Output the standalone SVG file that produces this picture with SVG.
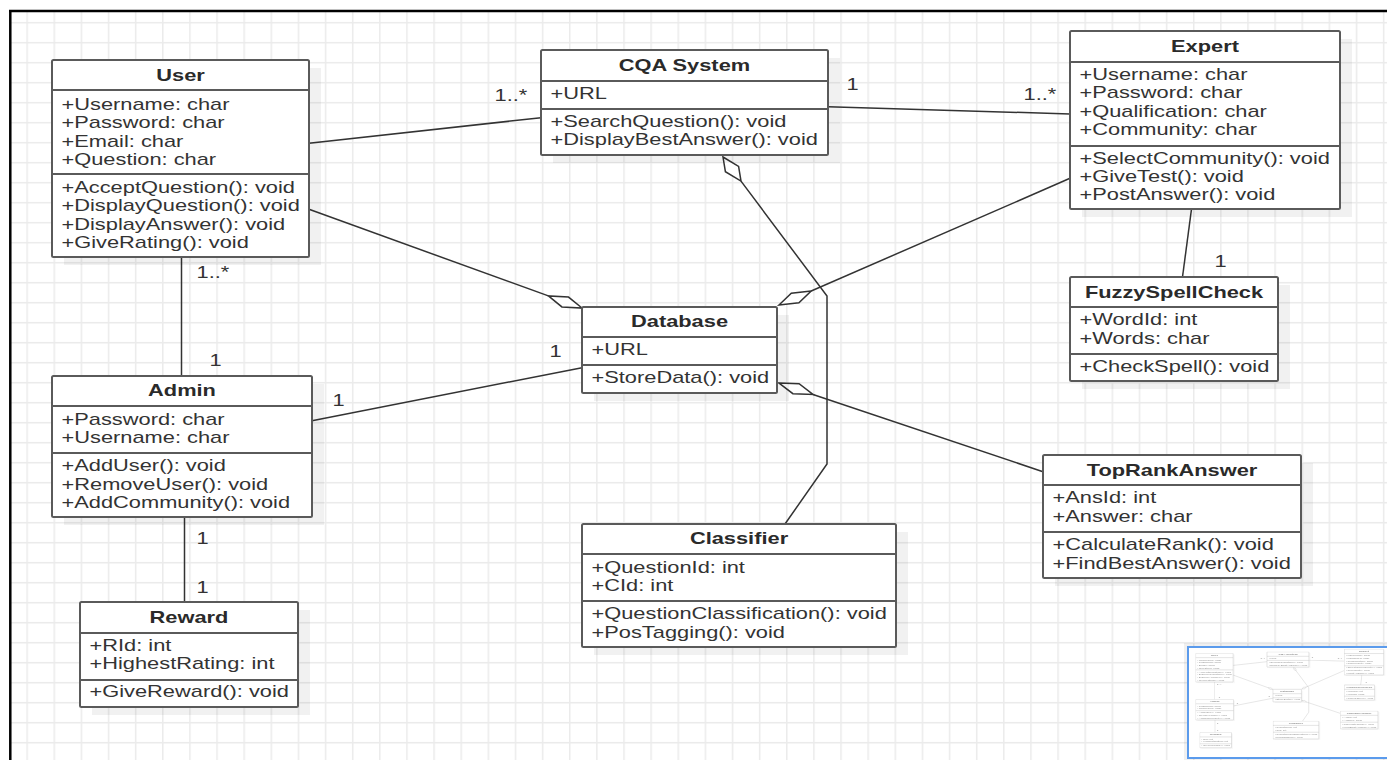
<svg xmlns="http://www.w3.org/2000/svg" width="1387" height="760" viewBox="0 0 1387 760">
<style>
.box{fill:#fff;stroke:#5a5a5a;stroke-width:2}
.sep{stroke:#5a5a5a;stroke-width:2}
.sh{fill:#000;opacity:.055}
.t{font-family:"Liberation Sans",Arial,sans-serif;font-size:16px;fill:#333}
.h{font-weight:bold;text-anchor:middle;fill:#2a2a2a}
.conn{stroke:#333;stroke-width:1.5;fill:none}
.dia{fill:#fff;stroke:#333;stroke-width:1.5;stroke-linejoin:miter}
.lbl{font-family:"Liberation Sans",Arial,sans-serif;font-size:16px;fill:#333}
</style>
<defs>
<pattern id="grid" patternUnits="userSpaceOnUse" x="-0.75" y="1.95" width="27.13" height="20">
<rect width="27.13" height="20" fill="#fff"/>
<path d="M0.75 0V20M0 0.75H27.13" stroke="#ebebeb" stroke-width="1.5"/>
</pattern>
</defs>
<rect x="0" y="0" width="1387" height="760" fill="#fff"/>
<rect x="11" y="12" width="1376" height="748" fill="url(#grid)"/>
<line x1="9" y1="11" x2="1387" y2="11" stroke="#000" stroke-width="2.5"/>
<line x1="10.3" y1="10" x2="10.3" y2="760" stroke="#000" stroke-width="2.5"/>

<g id="diagram">
<g id="connectors">
<path class="conn" d="M309 143.3L541 117.7"/>
<path class="conn" d="M828 106.7L1070 114"/>
<path class="conn" d="M309 209.3L548.4 295.9"/>
<polygon class="dia" points="582,308 568.5,297.1 548.4,295.9 561.9,306.9"/>
<path class="conn" d="M1070 178.3L811.2 291"/>
<polygon class="dia" points="779,305 791.3,293.3 811.2,291 798.9,302.7"/>
<path class="conn" d="M813 394.5L1043 471.7"/>
<polygon class="dia" points="779,383 799.1,383.7 813,394.5 792.9,393.7"/>
<path class="conn" d="M741 181.1L827 296L827 464L785 524"/>
<polygon class="dia" points="723,157 738.6,166.4 741,181.1 725.4,171.7"/>
<path class="conn" d="M312 420.7L582 367.7"/>
<path class="conn" d="M181.5 257V376"/>
<path class="conn" d="M184.5 517V602"/>
<path class="conn" d="M1191.5 209L1182.5 277"/>
<text class="lbl" transform="matrix(1.365 0 0 1 494.6 0)" y="101">1..*</text>
<text class="lbl" transform="matrix(1.365 0 0 1 846.6 0)" y="90">1</text>
<text class="lbl" transform="matrix(1.365 0 0 1 1023.6 0)" y="100">1..*</text>
<text class="lbl" transform="matrix(1.365 0 0 1 1214.6 0)" y="267">1</text>
<text class="lbl" transform="matrix(1.365 0 0 1 196.6 0)" y="278.5">1..*</text>
<text class="lbl" transform="matrix(1.365 0 0 1 209.6 0)" y="366">1</text>
<text class="lbl" transform="matrix(1.365 0 0 1 332.6 0)" y="406">1</text>
<text class="lbl" transform="matrix(1.365 0 0 1 549.6 0)" y="357">1</text>
<text class="lbl" transform="matrix(1.365 0 0 1 196.6 0)" y="544">1</text>
<text class="lbl" transform="matrix(1.365 0 0 1 196.6 0)" y="593">1</text>
</g>

<g id="user">
<rect class="sh" x="64" y="68" width="257" height="197"/>
<rect class="box" x="52" y="60" width="257" height="197" rx="1.5"/>
<line class="sep" x1="52" y1="90" x2="309" y2="90"/>
<line class="sep" x1="52" y1="174" x2="309" y2="174"/>
<text class="t h" transform="matrix(1.365 0 0 1 180.5 0)" y="81">User</text>
<g class="t">
<text transform="matrix(1.365 0 0 1 61.5 0)" y="110">+Username: char</text>
<text transform="matrix(1.365 0 0 1 61.5 0)" y="128.3">+Password: char</text>
<text transform="matrix(1.365 0 0 1 61.5 0)" y="146.6">+Email: char</text>
<text transform="matrix(1.365 0 0 1 61.5 0)" y="164.9">+Question: char</text>
<text transform="matrix(1.365 0 0 1 61.5 0)" y="193">+AcceptQuestion(): void</text>
<text transform="matrix(1.365 0 0 1 61.5 0)" y="211.3">+DisplayQuestion(): void</text>
<text transform="matrix(1.365 0 0 1 61.5 0)" y="229.6">+DisplayAnswer(): void</text>
<text transform="matrix(1.365 0 0 1 61.5 0)" y="247.9">+GiveRating(): void</text>
</g>
</g>

<g id="cqa-system">
<rect class="sh" x="553" y="58" width="287" height="105"/>
<rect class="box" x="541" y="50" width="287" height="105" rx="1.5"/>
<line class="sep" x1="541" y1="81" x2="828" y2="81"/>
<line class="sep" x1="541" y1="109" x2="828" y2="109"/>
<text class="t h" transform="matrix(1.365 0 0 1 684.5 0)" y="71">CQA System</text>
<g class="t">
<text transform="matrix(1.365 0 0 1 550.5 0)" y="99.3">+URL</text>
<text transform="matrix(1.365 0 0 1 550.5 0)" y="127.3">+SearchQuestion(): void</text>
<text transform="matrix(1.365 0 0 1 550.5 0)" y="145.4">+DisplayBestAnswer(): void</text>
</g>
</g>

<g id="expert">
<rect class="sh" x="1082" y="39" width="270" height="178"/>
<rect class="box" x="1070" y="31" width="270" height="178" rx="1.5"/>
<line class="sep" x1="1070" y1="62" x2="1340" y2="62"/>
<line class="sep" x1="1070" y1="146" x2="1340" y2="146"/>
<text class="t h" transform="matrix(1.365 0 0 1 1205 0)" y="52">Expert</text>
<g class="t">
<text transform="matrix(1.365 0 0 1 1079.5 0)" y="80">+Username: char</text>
<text transform="matrix(1.365 0 0 1 1079.5 0)" y="98.3">+Password: char</text>
<text transform="matrix(1.365 0 0 1 1079.5 0)" y="116.6">+Qualification: char</text>
<text transform="matrix(1.365 0 0 1 1079.5 0)" y="134.9">+Community: char</text>
<text transform="matrix(1.365 0 0 1 1079.5 0)" y="163.8">+SelectCommunity(): void</text>
<text transform="matrix(1.365 0 0 1 1079.5 0)" y="182.1">+GiveTest(): void</text>
<text transform="matrix(1.365 0 0 1 1079.5 0)" y="200.4">+PostAnswer(): void</text>
</g>
</g>

<g id="fuzzyspellcheck">
<rect class="sh" x="1082" y="285" width="208" height="104"/>
<rect class="box" x="1070" y="277" width="208" height="104" rx="1.5"/>
<line class="sep" x1="1070" y1="307" x2="1278" y2="307"/>
<line class="sep" x1="1070" y1="354" x2="1278" y2="354"/>
<text class="t h" transform="matrix(1.365 0 0 1 1174 0)" y="297.7">FuzzySpellCheck</text>
<g class="t">
<text transform="matrix(1.365 0 0 1 1079.5 0)" y="325.3">+WordId: int</text>
<text transform="matrix(1.365 0 0 1 1079.5 0)" y="343.6">+Words: char</text>
<text transform="matrix(1.365 0 0 1 1079.5 0)" y="372.3">+CheckSpell(): void</text>
</g>
</g>

<g id="database">
<rect class="sh" x="594" y="315" width="195" height="86"/>
<rect class="box" x="582" y="307" width="195" height="86" rx="1.5"/>
<line class="sep" x1="582" y1="337" x2="777" y2="337"/>
<line class="sep" x1="582" y1="365" x2="777" y2="365"/>
<text class="t h" transform="matrix(1.365 0 0 1 679.5 0)" y="327">Database</text>
<g class="t">
<text transform="matrix(1.365 0 0 1 591.5 0)" y="355.3">+URL</text>
<text transform="matrix(1.365 0 0 1 591.5 0)" y="383.5">+StoreData(): void</text>
</g>
</g>

<g id="admin">
<rect class="sh" x="64" y="384" width="260" height="141"/>
<rect class="box" x="52" y="376" width="260" height="141" rx="1.5"/>
<line class="sep" x1="52" y1="406" x2="312" y2="406"/>
<line class="sep" x1="52" y1="453" x2="312" y2="453"/>
<text class="t h" transform="matrix(1.365 0 0 1 182 0)" y="396.5">Admin</text>
<g class="t">
<text transform="matrix(1.365 0 0 1 61.5 0)" y="425">+Password: char</text>
<text transform="matrix(1.365 0 0 1 61.5 0)" y="443.3">+Username: char</text>
<text transform="matrix(1.365 0 0 1 61.5 0)" y="471.3">+AddUser(): void</text>
<text transform="matrix(1.365 0 0 1 61.5 0)" y="489.6">+RemoveUser(): void</text>
<text transform="matrix(1.365 0 0 1 61.5 0)" y="507.9">+AddCommunity(): void</text>
</g>
</g>

<g id="reward">
<rect class="sh" x="92" y="610" width="218" height="105"/>
<rect class="box" x="80" y="602" width="218" height="105" rx="1.5"/>
<line class="sep" x1="80" y1="633" x2="298" y2="633"/>
<line class="sep" x1="80" y1="680" x2="298" y2="680"/>
<text class="t h" transform="matrix(1.365 0 0 1 189 0)" y="623">Reward</text>
<g class="t">
<text transform="matrix(1.365 0 0 1 89.5 0)" y="651">+RId: int</text>
<text transform="matrix(1.365 0 0 1 89.5 0)" y="669.5">+HighestRating: int</text>
<text transform="matrix(1.365 0 0 1 89.5 0)" y="697.5">+GiveReward(): void</text>
</g>
</g>

<g id="classifier">
<rect class="sh" x="594" y="532" width="314" height="123"/>
<rect class="box" x="582" y="524" width="314" height="123" rx="1.5"/>
<line class="sep" x1="582" y1="554" x2="896" y2="554"/>
<line class="sep" x1="582" y1="601" x2="896" y2="601"/>
<text class="t h" transform="matrix(1.365 0 0 1 739 0)" y="544.5">Classifier</text>
<g class="t">
<text transform="matrix(1.365 0 0 1 591.5 0)" y="572.7">+QuestionId: int</text>
<text transform="matrix(1.365 0 0 1 591.5 0)" y="591">+CId: int</text>
<text transform="matrix(1.365 0 0 1 591.5 0)" y="619.3">+QuestionClassification(): void</text>
<text transform="matrix(1.365 0 0 1 591.5 0)" y="637.6">+PosTagging(): void</text>
</g>
</g>

<g id="toprankanswer">
<rect class="sh" x="1055" y="463" width="258" height="123"/>
<rect class="box" x="1043" y="455" width="258" height="123" rx="1.5"/>
<line class="sep" x1="1043" y1="485" x2="1301" y2="485"/>
<line class="sep" x1="1043" y1="532" x2="1301" y2="532"/>
<text class="t h" transform="matrix(1.365 0 0 1 1172 0)" y="475.7">TopRankAnswer</text>
<g class="t">
<text transform="matrix(1.365 0 0 1 1052.5 0)" y="503.5">+AnsId: int</text>
<text transform="matrix(1.365 0 0 1 1052.5 0)" y="521.8">+Answer: char</text>
<text transform="matrix(1.365 0 0 1 1052.5 0)" y="550.5">+CalculateRank(): void</text>
<text transform="matrix(1.365 0 0 1 1052.5 0)" y="568.8">+FindBestAnswer(): void</text>
</g>
</g>
</g>

<g id="minimap">
<rect x="1184" y="643" width="220" height="120" fill="#000" opacity="0.06"/>
<rect x="1188" y="647" width="215" height="111" fill="#fff" stroke="#5b9bec" stroke-width="2"/>
<use href="#diagram" transform="matrix(0.146 0 0 0.146 1188 644.5)" opacity="0.55"/>
</g>
</svg>
